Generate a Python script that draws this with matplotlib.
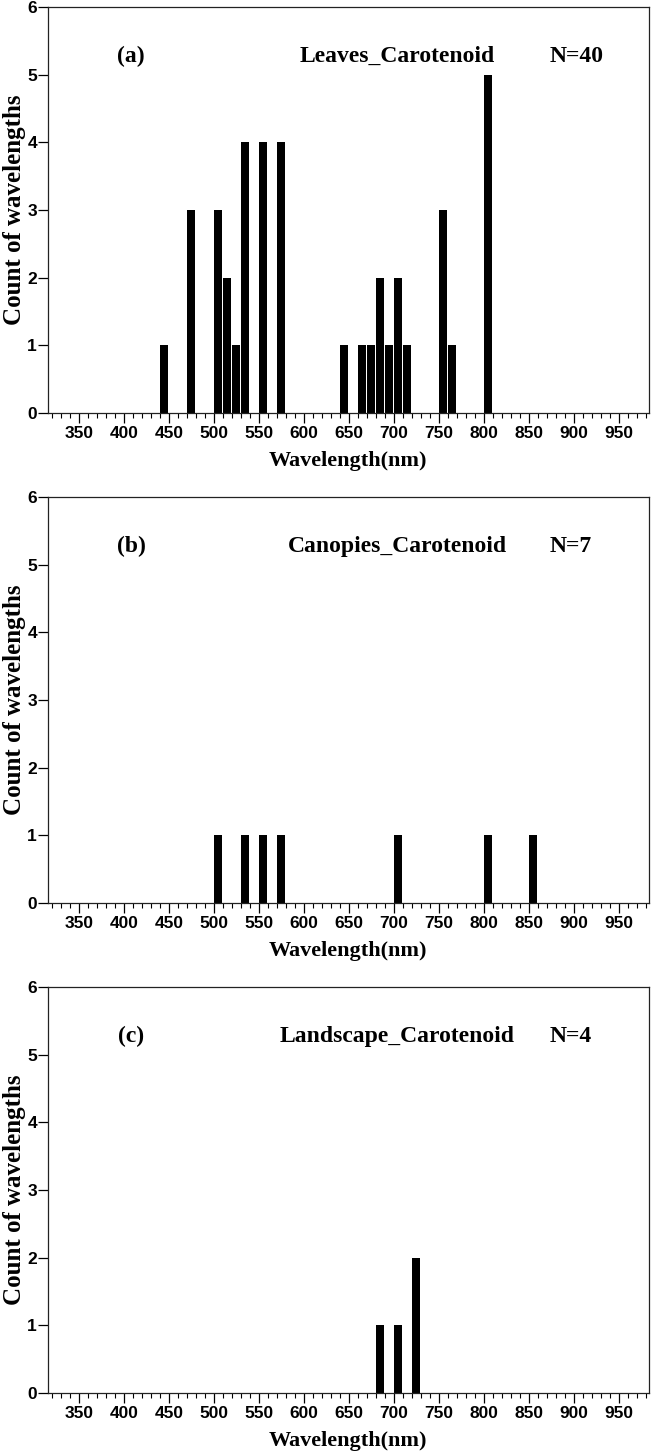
import numpy as np
import matplotlib
matplotlib.use('Agg')
import matplotlib.pyplot as plt
from matplotlib.ticker import MultipleLocator

# bin left edges (nm) and counts per panel
leaves_wl = [440, 470, 500, 510, 520, 530, 550, 570, 640, 660, 670, 680, 690, 700, 710, 750, 760, 800]
leaves_count = [1, 3, 3, 2, 1, 4, 4, 4, 1, 1, 1, 2, 1, 2, 1, 3, 1, 5]

canopies_wl = [500, 530, 550, 570, 700, 800, 850]
canopies_count = [1, 1, 1, 1, 1, 1, 1]

landscape_wl = [680, 700, 720]
landscape_count = [1, 1, 2]

panels = [
    ("(a)", "Leaves_Carotenoid", "N=40", leaves_wl, leaves_count),
    ("(b)", "Canopies_Carotenoid", "N=7", canopies_wl, canopies_count),
    ("(c)", "Landscape_Carotenoid", "N=4", landscape_wl, landscape_count),
]

serif = ["Liberation Serif", "DejaVu Serif"]
sans = ["Liberation Sans", "DejaVu Sans"]

fig = plt.figure(figsize=(6.51, 14.56), dpi=100)
W, H = 651.0, 1456.0
left, right = 48.3, 648.5
tops = [7, 497, 987]
panel_h = 406

for (tag, name, ntext, wl, cnt), top in zip(panels, tops):
    ax = fig.add_axes([left / W, 1 - (top + panel_h) / H, (right - left) / W, panel_h / H])
    ax.bar(wl, cnt, width=9, align="edge", color="black", edgecolor="none")
    ax.set_xlim(316, 983)
    ax.set_ylim(0, 6)
    ax.set_xticks(np.arange(350, 951, 50))
    ax.xaxis.set_minor_locator(MultipleLocator(10))
    ax.yaxis.set_major_locator(MultipleLocator(1))
    ax.tick_params(axis="x", which="major", direction="out", length=7.2, width=0.9, pad=2.5)
    ax.tick_params(axis="x", which="minor", direction="out", length=3.6, width=0.8)
    ax.tick_params(axis="y", which="major", direction="out", length=7.2, width=0.9, pad=1)
    for lab in ax.get_xticklabels() + ax.get_yticklabels():
        lab.set_fontfamily(sans)
        lab.set_fontweight("bold")
        lab.set_fontsize(12.5)
    for sp in ax.spines.values():
        sp.set_linewidth(0.9)
        sp.set_color("#222222")

    ax.text(408, 5.27, tag, ha="center", va="center", family=serif, fontweight="bold", fontsize=17)
    ax.text(704, 5.27, name, ha="center", va="center", family=serif, fontweight="bold", fontsize=17)
    ax.text(873, 5.27, ntext, ha="left", va="center", family=serif, fontweight="bold", fontsize=17)

    ax.set_xlabel("Wavelength(nm)", family=serif, fontweight="bold", fontsize=16, labelpad=7)
    ax.set_ylabel("Count of wavelengths", family=serif, fontweight="bold", fontsize=18, labelpad=1)

plt.savefig("out.png", dpi=100)
plt.close()
